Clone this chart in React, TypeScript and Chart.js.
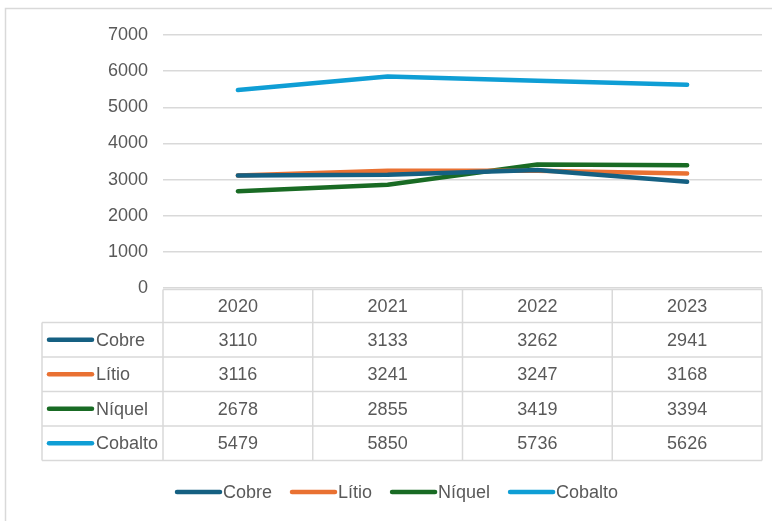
import React, { useEffect, useRef } from "react";
import { Chart, registerables } from "chart.js";

Chart.register(...registerables);

const categories = ["2020", "2021", "2022", "2023"];
const seriesNames = ["Cobre", "Lítio", "Níquel", "Cobalto"];
const cobre = [3110, 3133, 3262, 2941];
const litio = [3116, 3241, 3247, 3168];
const niquel = [2678, 2855, 3419, 3394];
const cobalto = [5479, 5850, 5736, 5626];
const seriesColors = ["#156082", "#E97132", "#196B24", "#0F9ED5"];
const yTicks = [0, 1000, 2000, 3000, 4000, 5000, 6000, 7000];

const FONT = "'Liberation Sans', Arial, sans-serif";
const TEXT = "#595959";
const GRID = "#d9d9d9";

const tablePlugin = {
  id: "dataTable",
  beforeDraw(chart: any) {
    const ctx = chart.ctx;
    ctx.save();
    ctx.fillStyle = "#ffffff";
    ctx.fillRect(0, 0, chart.width, chart.height);
    ctx.strokeStyle = "#d9d9d9";
    ctx.lineWidth = 1.5;
    ctx.strokeRect(5.5, 8.5, chart.width + 20, chart.height + 20);
    ctx.restore();
  },
  afterDraw(chart: any) {
    const ctx = chart.ctx;
    const xs = chart.scales.x;
    const area = chart.chartArea;
    const colW = (area.right - area.left) / categories.length;
    const headTop = area.bottom + 1.5;
    const headH = 33;
    const rowH = 34.5;
    const leftX = 42;
    const nRows = seriesNames.length;
    const tableBottom = headTop + headH + rowH * nRows;
    ctx.save();
    ctx.strokeStyle = GRID;
    ctx.lineWidth = 1.5;
    ctx.beginPath();
    ctx.moveTo(area.left, headTop);
    ctx.lineTo(area.right, headTop);
    for (let r = 0; r <= nRows; r++) {
      const y = headTop + headH + r * rowH;
      ctx.moveTo(leftX, y);
      ctx.lineTo(area.right, y);
    }
    for (let c = 0; c <= categories.length; c++) {
      const x = area.left + c * colW;
      ctx.moveTo(x, headTop);
      ctx.lineTo(x, tableBottom);
    }
    ctx.moveTo(leftX, headTop + headH);
    ctx.lineTo(leftX, tableBottom);
    ctx.stroke();

    ctx.font = `18px ${FONT}`;
    ctx.fillStyle = TEXT;
    ctx.textAlign = "center";
    ctx.textBaseline = "middle";
    categories.forEach((c, i) => {
      ctx.fillText(c, xs.getPixelForValue(i), headTop + headH / 2 + 1);
    });
    chart.data.datasets.forEach((ds: any, r: number) => {
      const cy = headTop + headH + r * rowH + rowH / 2 + 1;
      ctx.textAlign = "center";
      ctx.fillStyle = TEXT;
      ds.data.forEach((v: number, i: number) => {
        ctx.fillText(String(v), xs.getPixelForValue(i), cy);
      });
      ctx.strokeStyle = ds.borderColor;
      ctx.lineWidth = 4.5;
      ctx.lineCap = "round";
      ctx.beginPath();
      ctx.moveTo(49, cy - 1);
      ctx.lineTo(92, cy - 1);
      ctx.stroke();
      ctx.textAlign = "left";
      ctx.fillStyle = TEXT;
      ctx.fillText(ds.label, 96, cy);
    });

    const ly = 492;
    let x = 177;
    ctx.textAlign = "left";
    chart.data.datasets.forEach((ds: any) => {
      ctx.strokeStyle = ds.borderColor;
      ctx.lineWidth = 4.5;
      ctx.lineCap = "round";
      ctx.beginPath();
      ctx.moveTo(x, ly);
      ctx.lineTo(x + 43, ly);
      ctx.stroke();
      ctx.fillStyle = TEXT;
      ctx.fillText(ds.label, x + 46, ly + 1);
      x += 46 + ctx.measureText(ds.label).width + 20;
    });
    ctx.restore();
  },
};

export default function App() {
  const ref = useRef<HTMLCanvasElement>(null);
  useEffect(() => {
    const values = [cobre, litio, niquel, cobalto];
    const chart = new Chart(ref.current!, {
      type: "line",
      data: {
        labels: categories,
        datasets: seriesNames.map((name, i) => ({
          label: name,
          data: values[i],
          borderColor: seriesColors[i],
          backgroundColor: seriesColors[i],
          borderWidth: 4.5,
          pointRadius: 0,
          tension: 0,
          borderCapStyle: "round",
          borderJoinStyle: "round",
          fill: false,
        })),
      },
      options: {
        responsive: false,
        animation: false,
        layout: { padding: { top: 35, bottom: 233, left: 0, right: 10 } },
        plugins: { legend: { display: false }, tooltip: { enabled: false } },
        scales: {
          x: { display: false, offset: true },
          y: {
            min: 0,
            max: 7000,
            afterFit(scale: any) {
              scale.width = 163;
            },
            afterBuildTicks(scale: any) {
              scale.ticks = yTicks.map((v) => ({ value: v }));
            },
            border: { display: false },
            grid: { color: GRID, lineWidth: 1.5, drawTicks: false },
            ticks: {
              padding: 15,
              color: TEXT,
              font: { size: 18, family: FONT },
              callback: (v: any) => String(v),
            },
          },
        },
      },
      plugins: [tablePlugin],
    } as any);
    return () => chart.destroy();
  }, []);
  return (
    <div style={{ position: "fixed", left: 0, top: 0, width: 772, height: 521 }}>
      <canvas ref={ref} width={772} height={521} style={{ display: "block" }} />
    </div>
  );
}
